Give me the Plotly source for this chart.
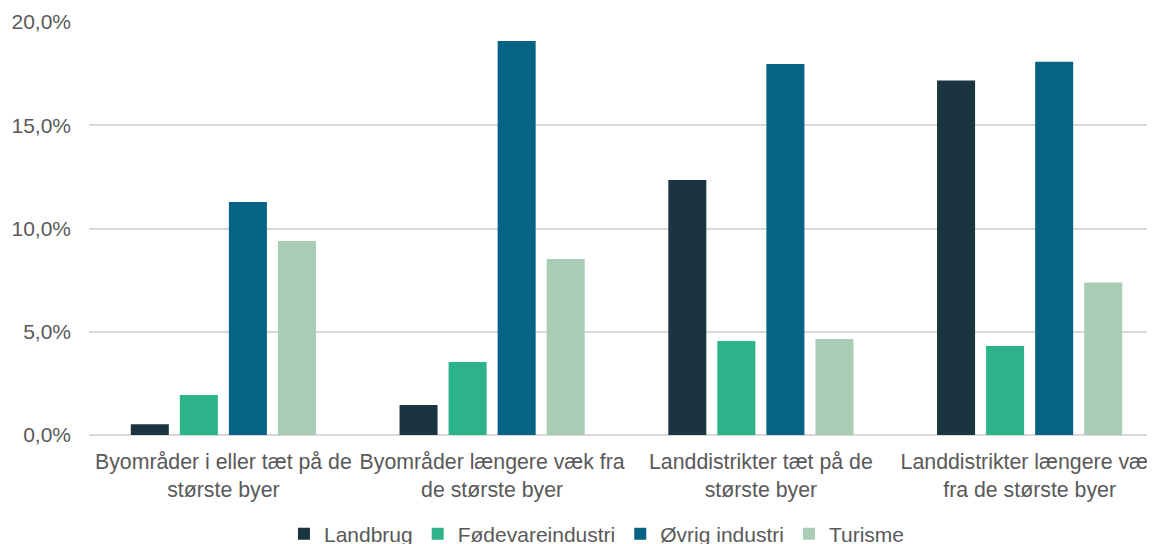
import plotly.graph_objects as go

categories = [
    "Byområder i eller tæt på de<br>største byer",
    "Byområder længere væk fra<br>de største byer",
    "Landdistrikter tæt på de<br>største byer",
    "Landdistrikter længere væk<br>fra de største byer",
]
landbrug = [0.52, 1.45, 12.35, 17.17]
foedevare = [1.94, 3.54, 4.55, 4.31]
oevrig = [11.28, 19.08, 17.97, 18.08]
turisme = [9.39, 8.52, 4.65, 7.38]

series_names = ["Landbrug", "Fødevareindustri", "Øvrig industri", "Turisme"]
series_values = [landbrug, foedevare, oevrig, turisme]
colors = ["#1b3540", "#2db38a", "#076383", "#a9cdb4"]

y_ticks = [0, 5, 10, 15, 20]
y_tick_labels = ["0,0%", "5,0%", "10,0%", "15,0%", "20,0%"]

FONT = "Liberation Sans, Arial, sans-serif"
TEXT = "#595959"

fig = go.Figure()
for name, vals, col in zip(series_names, series_values, colors):
    fig.add_trace(go.Bar(
        name=name, x=categories, y=vals,
        marker=dict(color=col, line=dict(width=0)),
    ))

# page body has an 8px default margin, so the figure is 8px smaller each way
fig.update_layout(
    width=1147, height=536,
    margin=dict(l=81, r=0, t=14, b=109, autoexpand=False),
    paper_bgcolor="white", plot_bgcolor="white",
    barmode="group", bargap=0.27, bargroupgap=0.2245,
    font=dict(family=FONT, color=TEXT, size=21),
    showlegend=True,
    legend=dict(
        orientation="h", xref="paper", x=0.4765, xanchor="center",
        y=-0.2397, yanchor="middle",
        font=dict(family=FONT, size=21, color=TEXT),
        itemwidth=30, traceorder="normal",
    ),
    xaxis=dict(
        type="category", range=[-0.5, 3.4665],
        showgrid=False, showline=False, zeroline=False,
        tickfont=dict(family=FONT, size=21.3, color=TEXT),
        ticks="", ticklabelstandoff=12, tickangle=0, automargin=False,
    ),
    yaxis=dict(
        range=[0, 20], tickvals=y_ticks, ticktext=y_tick_labels,
        showgrid=True, gridcolor="#d9d9d9", gridwidth=1.5,
        zeroline=True, zerolinecolor="#d9d9d9", zerolinewidth=1.5,
        showline=False, ticks="", ticklabelstandoff=17, automargin=False,
        tickfont=dict(family=FONT, size=21, color=TEXT),
    ),
)

fig.write_html("out.html")
